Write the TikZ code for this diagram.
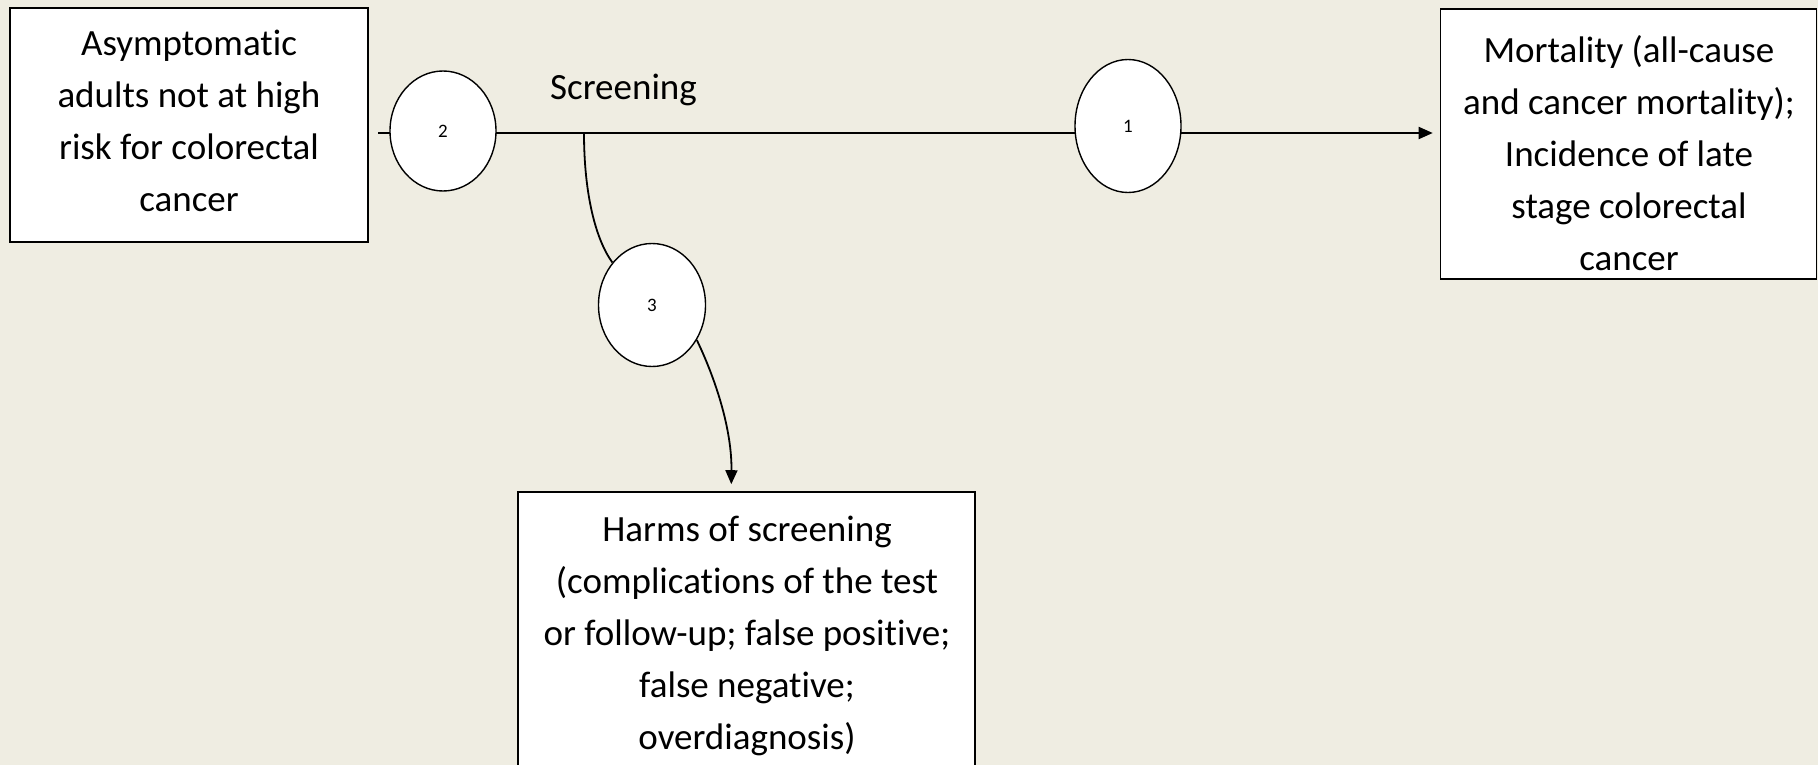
\documentclass[tikz,border=0pt]{standalone}
\usepackage{fontspec}
\setmainfont{Carlito}[Ligatures=CommonOff]
\usetikzlibrary{shapes.geometric,arrows.meta}
\definecolor{bg}{RGB}{239,237,226}
\begin{document}
\begin{tikzpicture}[x=1pt,y=-1pt,
  box/.style={draw=black, line width=1.6pt, fill=white, inner sep=0pt},
  txt/.style={font=\fontsize{37}{52}\selectfont, align=center, inner sep=0pt},
  lbl/.style={font=\fontsize{37}{52}\selectfont, inner sep=0pt},
  oval/.style={ellipse, draw=black, line width=1.4pt, fill=white, inner sep=0pt, font=\fontsize{19}{22}\selectfont},
  conn/.style={line width=1.8pt},
  tip/.style={-{Triangle[length=14pt,width=12pt]}}]
\useasboundingbox (0,0) rectangle (1818,765);
\clip (0,0) rectangle (1818,765);
\fill[bg] (0,0) rectangle (1818,765);
% boxes
\node[box, minimum width=358pt, minimum height=234pt] (L) at (189,125) {};
\node[txt] (Lt) at (189,123) {\strut Asymptomatic\\\strut adults not at high\\\strut risk for colorectal\\\strut cancer};
\node[box, minimum width=376pt, minimum height=270pt] (R) at (1628.5,144) {};
\node[txt] (Rt) at (1629,156) {\strut Mortality (all-cause\\\strut and cancer mortality);\\\strut Incidence of late\\\strut stage colorectal\\\strut cancer};
\node[box, minimum width=457pt, minimum height=281pt] (H) at (746.5,632.5) {};
\node[txt] (Ht) at (747,635) {\strut Harms of screening\\\strut (complications of the test\\\strut or follow-up; false positive;\\\strut false negative;\\\strut overdiagnosis)};
\node[lbl, anchor=base] (S) at (623.5,100) {Screening};
% main line
\coordinate (s) at (378,133);
\coordinate (b) at (584,133);
\draw[conn, tip, shorten >=7pt] (s) -- (s -| R.west);
% ovals
\node[oval, minimum width=106pt, minimum height=120pt] (E2) at (443,131) {2};
\node[oval, minimum width=106pt, minimum height=133pt] (E1) at (1128,126) {1};
\node[oval, minimum width=107pt, minimum height=123pt] (E3) at (652,305) {3};
% branch
\draw[conn] (b) .. controls (584,195) and (596,240) .. (E3.133);
\draw[conn, tip, shorten >=7pt] (E3.-38) .. controls (716,380) and (732,430) .. ([xshift=214pt]H.north west);
\end{tikzpicture}
\end{document}
